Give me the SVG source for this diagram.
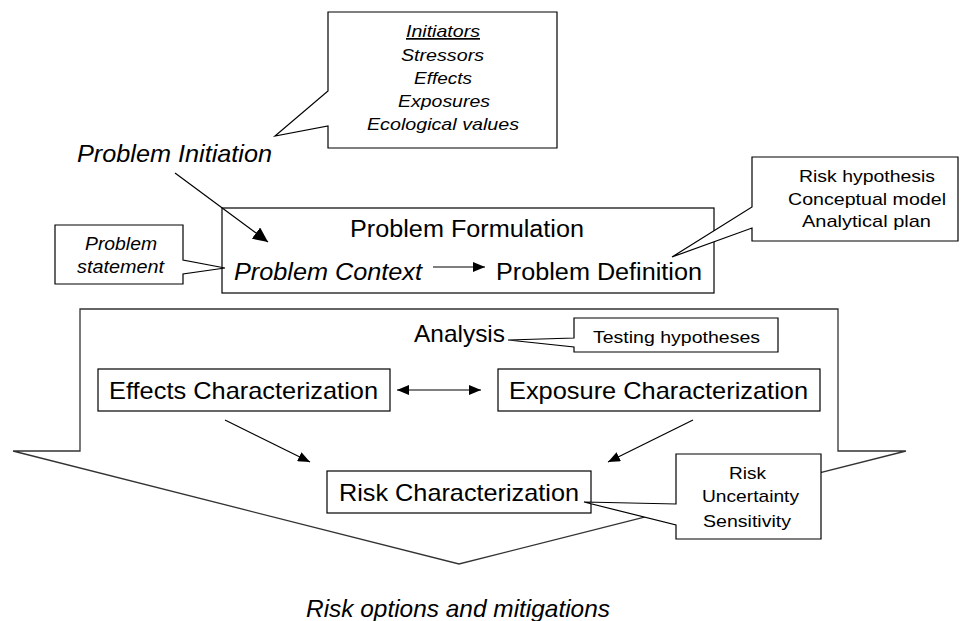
<svg xmlns="http://www.w3.org/2000/svg" width="972" height="621" viewBox="0 0 972 621">
<defs>
<style>
.t{font-family:"Liberation Sans",Arial,sans-serif;fill:#000}
.i{font-style:italic}
.box{fill:#fff;stroke:#000;stroke-width:1.2}
.ln{stroke:#000;stroke-width:1.2;fill:none}
.big{fill:#fff;stroke:#333;stroke-width:1.3;stroke-linejoin:miter}
</style>
<marker id="ah" viewBox="0 0 12 10" refX="12" refY="5" markerWidth="12" markerHeight="10" markerUnits="userSpaceOnUse" orient="auto-start-reverse"><path d="M0,0 L12,5 L0,10 z" fill="#000"/></marker>
<marker id="ahL" viewBox="0 0 15 14" refX="15" refY="7" markerWidth="15" markerHeight="14" markerUnits="userSpaceOnUse" orient="auto"><path d="M0,0 L15,7 L0,14 z" fill="#000"/></marker>
</defs>
<rect width="972" height="621" fill="#fff"/>

<g id="analysis-arrow">
<path class="big" d="M80,309 H838 V451 H906 L459,564 L13,451 H80 Z"/>
</g>

<g id="initiators">
<path class="box" d="M328,12 H557 V148 H328 V126 L275,136 L328,91 Z"/>
<text class="t i" x="406" y="37" font-size="17" textLength="74" lengthAdjust="spacingAndGlyphs" text-decoration="underline">Initiators</text>
<text class="t i" x="401" y="61" font-size="17" textLength="83" lengthAdjust="spacingAndGlyphs">Stressors</text>
<text class="t i" x="414" y="84" font-size="17" textLength="58" lengthAdjust="spacingAndGlyphs">Effects</text>
<text class="t i" x="398" y="107" font-size="17" textLength="92" lengthAdjust="spacingAndGlyphs">Exposures</text>
<text class="t i" x="367" y="130" font-size="17" textLength="152" lengthAdjust="spacingAndGlyphs">Ecological values</text>
</g>

<g id="problem-initiation">
<text class="t i" x="77" y="162" font-size="24" textLength="195" lengthAdjust="spacingAndGlyphs">Problem Initiation</text>
</g>

<g id="problem-formulation">
<rect class="box" x="222" y="208" width="492" height="85"/>
<text class="t" x="350" y="237" font-size="23" textLength="234" lengthAdjust="spacingAndGlyphs">Problem Formulation</text>
<text class="t i" x="234" y="280" font-size="23" textLength="188" lengthAdjust="spacingAndGlyphs">Problem Context</text>
<text class="t" x="496" y="280" font-size="23" textLength="206" lengthAdjust="spacingAndGlyphs">Problem Definition</text>
</g>

<g id="problem-statement">
<path class="box" d="M55,225 H183 V260 L225,268 L183,274 V284 H55 Z"/>
<text class="t i" x="85" y="250" font-size="18" textLength="72" lengthAdjust="spacingAndGlyphs">Problem</text>
<text class="t i" x="77" y="273" font-size="18" textLength="87" lengthAdjust="spacingAndGlyphs">statement</text>
</g>

<g id="risk-hypothesis">
<path class="box" d="M752,157 H958 V241 H752 V228 L672,257 L752,207 Z"/>
<text class="t" x="799" y="182" font-size="17" textLength="136" lengthAdjust="spacingAndGlyphs">Risk hypothesis</text>
<text class="t" x="788" y="205" font-size="17" textLength="158" lengthAdjust="spacingAndGlyphs">Conceptual model</text>
<text class="t" x="802" y="227" font-size="17" textLength="129" lengthAdjust="spacingAndGlyphs">Analytical plan</text>
</g>

<g id="analysis">
<text class="t" x="414" y="342" font-size="24" textLength="91" lengthAdjust="spacingAndGlyphs">Analysis</text>
</g>

<g id="testing-hypotheses">
<path class="box" d="M574,318 H778 V352 H574 V347 L508,340 L574,338 Z"/>
<text class="t" x="593" y="343" font-size="17" textLength="167" lengthAdjust="spacingAndGlyphs">Testing hypotheses</text>
</g>

<g id="effects-characterization">
<rect class="box" x="98" y="369" width="292" height="42"/>
<text class="t" x="109" y="399" font-size="24" textLength="269" lengthAdjust="spacingAndGlyphs">Effects Characterization</text>
</g>

<g id="exposure-characterization">
<rect class="box" x="498" y="369" width="322" height="42"/>
<text class="t" x="509" y="399" font-size="24" textLength="299" lengthAdjust="spacingAndGlyphs">Exposure Characterization</text>
</g>

<g id="risk-characterization">
<rect class="box" x="327" y="471" width="264" height="42"/>
<text class="t" x="339" y="501" font-size="24" textLength="240" lengthAdjust="spacingAndGlyphs">Risk Characterization</text>
</g>

<g id="risk-outputs">
<path class="box" d="M676,454 H821 V539 H676 V525 L584,502 L676,504 Z"/>
<text class="t" x="729" y="479" font-size="17" textLength="37" lengthAdjust="spacingAndGlyphs">Risk</text>
<text class="t" x="702" y="502" font-size="17" textLength="97" lengthAdjust="spacingAndGlyphs">Uncertainty</text>
<text class="t" x="703" y="527" font-size="17" textLength="88" lengthAdjust="spacingAndGlyphs">Sensitivity</text>
</g>

<g id="risk-options">
<text class="t i" x="306" y="617" font-size="24" textLength="304" lengthAdjust="spacingAndGlyphs">Risk options and mitigations</text>
</g>

<g id="connectors">
<line class="ln" x1="175" y1="173" x2="268" y2="242" marker-end="url(#ahL)"/>
<line class="ln" x1="433" y1="267" x2="485" y2="267" marker-end="url(#ah)"/>
<line class="ln" x1="397" y1="390" x2="481" y2="390" marker-start="url(#ah)" marker-end="url(#ah)"/>
<line class="ln" x1="225" y1="420" x2="310" y2="462" marker-end="url(#ah)"/>
<line class="ln" x1="693" y1="420" x2="608" y2="462" marker-end="url(#ah)"/>
</g>
</svg>
